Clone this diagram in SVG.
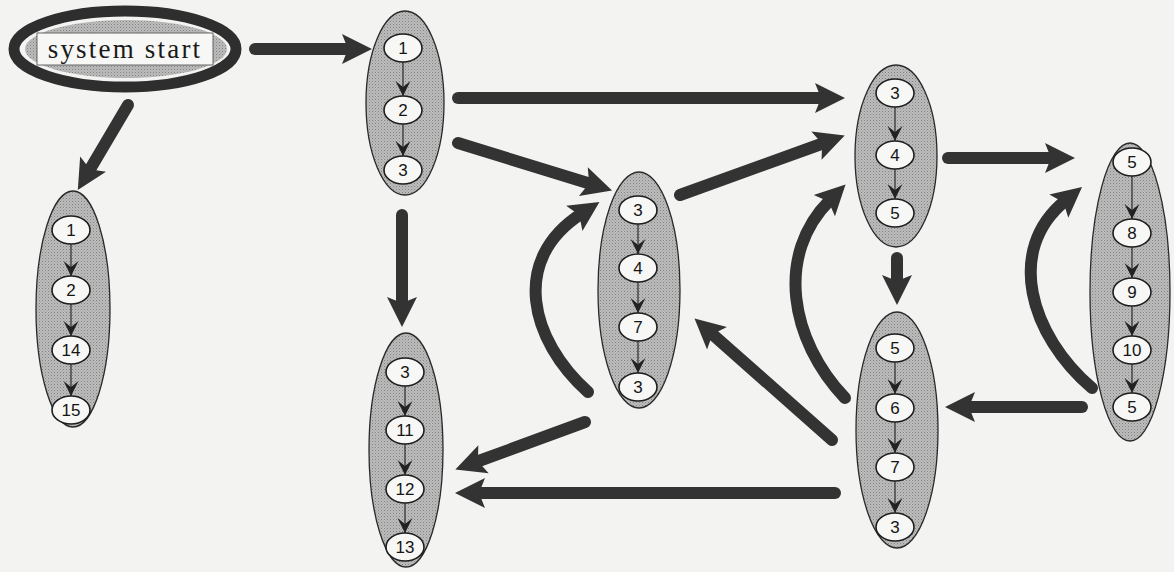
<svg xmlns="http://www.w3.org/2000/svg" width="1174" height="572" viewBox="0 0 1174 572">
  <style>
    .hull { fill: url(#halftone); stroke: #2a2a2a; stroke-width: 1.3; }
    .state { fill: #f7f7f5; stroke: #1e1e1e; stroke-width: 1.6; }
    .num { font-family: "Liberation Sans", "DejaVu Sans", sans-serif; font-size: 17px; fill: #151515; text-anchor: middle; }
    .step { stroke: #2a2a2a; stroke-width: 1.2; fill: none; marker-end: url(#chevron); }
    .flow { stroke: #333; stroke-width: 12; stroke-linecap: round; fill: none; marker-end: url(#head); }
  </style>
  <defs>
    <pattern id="halftone" width="3" height="3" patternUnits="userSpaceOnUse">
      <rect width="3" height="3" fill="#bcbcbc"/>
      <rect x="0" y="0" width="1" height="1" fill="#828282"/>
      <rect x="1.5" y="1.5" width="1" height="1" fill="#9a9a9a"/>
    </pattern>
    <marker id="chevron" viewBox="-16 -9 18 18" refX="0" refY="0" markerWidth="18" markerHeight="18" markerUnits="userSpaceOnUse" orient="auto">
      <path d="M0,0 L-15,-7.5 L-9,0 L-15,7.5 Z" fill="#222"/>
    </marker>
    <marker id="head" viewBox="-10 -17 34 34" refX="0" refY="0" markerWidth="34" markerHeight="34" markerUnits="userSpaceOnUse" orient="auto">
      <path d="M22,0 L-8,-15 L-2,0 L-8,15 Z" fill="#333"/>
    </marker>
  </defs>

  <rect width="1174" height="572" fill="#f3f3f1"/>

  <!-- entry node -->
  <g id="system-start">
    <ellipse cx="125" cy="49" rx="111" ry="38" fill="#f3f3f1" stroke="#2e2e2e" stroke-width="11"/>
    <ellipse cx="126" cy="49" rx="101" ry="29" fill="url(#halftone)"/>
    <rect x="37" y="33" width="176" height="32" fill="#f7f7f5" stroke="#666" stroke-width="1"/>
    <text x="125" y="58" font-family="'Liberation Serif', 'DejaVu Serif', serif" font-size="27" letter-spacing="2.2" text-anchor="middle" fill="#1a1a1a">system start</text>
  </g>

  <!-- sequence 1 2 14 15 -->
  <g id="seq-1-2-14-15">
    <ellipse class="hull" cx="73" cy="309" rx="37" ry="118"/>
    <line class="step" x1="71" y1="244" x2="71" y2="276"/>
    <line class="step" x1="71" y1="304" x2="71" y2="336"/>
    <line class="step" x1="71" y1="364" x2="71" y2="396"/>
    <ellipse class="state" cx="71" cy="230" rx="19" ry="14"/>
    <ellipse class="state" cx="71" cy="290" rx="19" ry="14"/>
    <ellipse class="state" cx="71" cy="350" rx="19" ry="14"/>
    <ellipse class="state" cx="71" cy="410" rx="19" ry="14"/>
    <text class="num" x="71" y="236">1</text>
    <text class="num" x="71" y="296">2</text>
    <text class="num" x="71" y="356">14</text>
    <text class="num" x="71" y="416">15</text>
  </g>

  <!-- sequence 1 2 3 -->
  <g id="seq-1-2-3">
    <ellipse class="hull" cx="405" cy="103" rx="39" ry="92"/>
    <line class="step" x1="403" y1="62" x2="403" y2="96"/>
    <line class="step" x1="403" y1="124" x2="403" y2="156"/>
    <ellipse class="state" cx="403" cy="48" rx="19" ry="14"/>
    <ellipse class="state" cx="403" cy="110" rx="19" ry="14"/>
    <ellipse class="state" cx="403" cy="170" rx="19" ry="14"/>
    <text class="num" x="403" y="54">1</text>
    <text class="num" x="403" y="116">2</text>
    <text class="num" x="403" y="176">3</text>
  </g>

  <!-- sequence 3 11 12 13 -->
  <g id="seq-3-11-12-13">
    <ellipse class="hull" cx="406" cy="450" rx="37" ry="117"/>
    <line class="step" x1="405" y1="386" x2="405" y2="416"/>
    <line class="step" x1="405" y1="444" x2="405" y2="475"/>
    <line class="step" x1="405" y1="503" x2="405" y2="533"/>
    <ellipse class="state" cx="405" cy="372" rx="19" ry="14"/>
    <ellipse class="state" cx="405" cy="430" rx="19" ry="14"/>
    <ellipse class="state" cx="405" cy="489" rx="19" ry="14"/>
    <ellipse class="state" cx="405" cy="547" rx="19" ry="14"/>
    <text class="num" x="405" y="378">3</text>
    <text class="num" x="405" y="436">11</text>
    <text class="num" x="405" y="495">12</text>
    <text class="num" x="405" y="553">13</text>
  </g>

  <!-- sequence 3 4 7 3 -->
  <g id="seq-3-4-7-3">
    <ellipse class="hull" cx="639" cy="290" rx="41" ry="118"/>
    <line class="step" x1="638" y1="224" x2="638" y2="254"/>
    <line class="step" x1="638" y1="282" x2="638" y2="313"/>
    <line class="step" x1="638" y1="341" x2="638" y2="373"/>
    <ellipse class="state" cx="638" cy="210" rx="19" ry="14"/>
    <ellipse class="state" cx="638" cy="268" rx="19" ry="14"/>
    <ellipse class="state" cx="638" cy="327" rx="19" ry="14"/>
    <ellipse class="state" cx="638" cy="387" rx="19" ry="14"/>
    <text class="num" x="638" y="216">3</text>
    <text class="num" x="638" y="274">4</text>
    <text class="num" x="638" y="333">7</text>
    <text class="num" x="638" y="393">3</text>
  </g>

  <!-- sequence 3 4 5 -->
  <g id="seq-3-4-5">
    <ellipse class="hull" cx="896" cy="156" rx="41" ry="91"/>
    <line class="step" x1="895" y1="107" x2="895" y2="141"/>
    <line class="step" x1="895" y1="169" x2="895" y2="199"/>
    <ellipse class="state" cx="895" cy="93" rx="19" ry="14"/>
    <ellipse class="state" cx="895" cy="155" rx="19" ry="14"/>
    <ellipse class="state" cx="895" cy="213" rx="19" ry="14"/>
    <text class="num" x="895" y="99">3</text>
    <text class="num" x="895" y="161">4</text>
    <text class="num" x="895" y="219">5</text>
  </g>

  <!-- sequence 5 6 7 3 -->
  <g id="seq-5-6-7-3">
    <ellipse class="hull" cx="897" cy="430" rx="41" ry="118"/>
    <line class="step" x1="895" y1="362" x2="895" y2="394"/>
    <line class="step" x1="895" y1="422" x2="895" y2="453"/>
    <line class="step" x1="895" y1="481" x2="895" y2="513"/>
    <ellipse class="state" cx="895" cy="348" rx="19" ry="14"/>
    <ellipse class="state" cx="895" cy="408" rx="19" ry="14"/>
    <ellipse class="state" cx="895" cy="467" rx="19" ry="14"/>
    <ellipse class="state" cx="895" cy="527" rx="19" ry="14"/>
    <text class="num" x="895" y="354">5</text>
    <text class="num" x="895" y="414">6</text>
    <text class="num" x="895" y="473">7</text>
    <text class="num" x="895" y="533">3</text>
  </g>

  <!-- sequence 5 8 9 10 5 -->
  <g id="seq-5-8-9-10-5">
    <ellipse class="hull" cx="1130" cy="292" rx="40" ry="149"/>
    <line class="step" x1="1132" y1="176" x2="1132" y2="219"/>
    <line class="step" x1="1132" y1="247" x2="1132" y2="278"/>
    <line class="step" x1="1132" y1="306" x2="1132" y2="336"/>
    <line class="step" x1="1132" y1="364" x2="1132" y2="393"/>
    <ellipse class="state" cx="1132" cy="162" rx="19" ry="14"/>
    <ellipse class="state" cx="1132" cy="233" rx="19" ry="14"/>
    <ellipse class="state" cx="1132" cy="292" rx="19" ry="14"/>
    <ellipse class="state" cx="1132" cy="350" rx="19" ry="14"/>
    <ellipse class="state" cx="1132" cy="407" rx="19" ry="14"/>
    <text class="num" x="1132" y="168">5</text>
    <text class="num" x="1132" y="239">8</text>
    <text class="num" x="1132" y="298">9</text>
    <text class="num" x="1132" y="356">10</text>
    <text class="num" x="1132" y="413">5</text>
  </g>

  <!-- transitions between sequences -->
  <g id="connectors">
    <path class="flow" d="M255,49 L350,49"/>
    <path class="flow" d="M128,105 L89,171"/>
    <path class="flow" d="M458,98 L823,98"/>
    <path class="flow" d="M458,143 L591,184"/>
    <path class="flow" d="M402,215 L402,305"/>
    <path class="flow" d="M680,195 L824,143"/>
    <path class="flow" d="M588,392 C530,340 510,260 581,214"/>
    <path class="flow" d="M585,422 L476,462"/>
    <path class="flow" d="M835,493 L477,493"/>
    <path class="flow" d="M832,440 L711,333"/>
    <path class="flow" d="M845,398 C790,340 775,255 830,200"/>
    <path class="flow" d="M897,258 L897,283"/>
    <path class="flow" d="M948,158 L1053,158"/>
    <path class="flow" d="M1082,407 L967,407"/>
    <path class="flow" d="M1092,388 C1030,335 1005,250 1065,201"/>
  </g>
</svg>
